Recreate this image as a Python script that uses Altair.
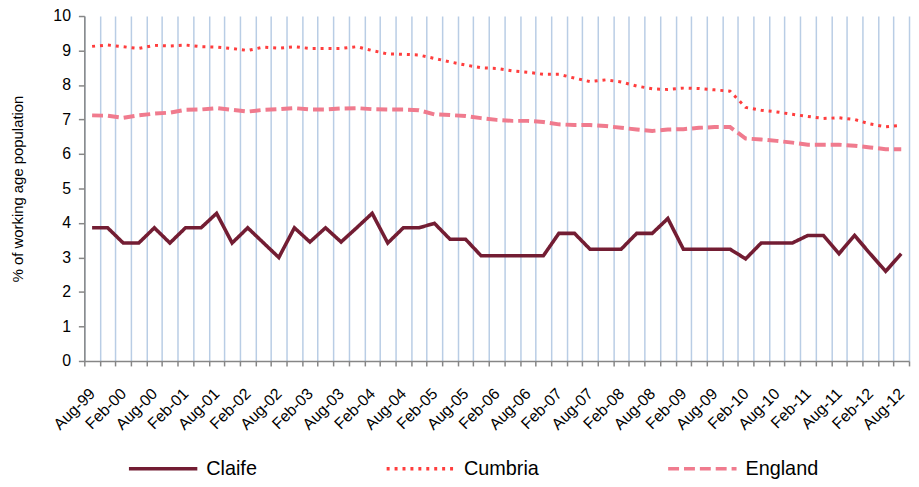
import altair as alt
import pandas as pd

periods = ["Aug-99", "Nov-99", "Feb-00", "May-00", "Aug-00", "Nov-00", "Feb-01", "May-01",
           "Aug-01", "Nov-01", "Feb-02", "May-02", "Aug-02", "Nov-02", "Feb-03", "May-03",
           "Aug-03", "Nov-03", "Feb-04", "May-04", "Aug-04", "Nov-04", "Feb-05", "May-05",
           "Aug-05", "Nov-05", "Feb-06", "May-06", "Aug-06", "Nov-06", "Feb-07", "May-07",
           "Aug-07", "Nov-07", "Feb-08", "May-08", "Aug-08", "Nov-08", "Feb-09", "May-09",
           "Aug-09", "Nov-09", "Feb-10", "May-10", "Aug-10", "Nov-10", "Feb-11", "May-11",
           "Aug-11", "Nov-11", "Feb-12", "May-12", "Aug-12"]

claife = [3.86, 3.86, 3.42, 3.42, 3.86, 3.42, 3.86, 3.86, 4.28, 3.42,
          3.86, 3.43, 3.00, 3.86, 3.45, 3.86, 3.45, 3.86, 4.28, 3.42,
          3.86, 3.86, 3.99, 3.53, 3.53, 3.05, 3.05, 3.05, 3.05, 3.05,
          3.70, 3.70, 3.24, 3.24, 3.24, 3.70, 3.70, 4.13, 3.24, 3.24,
          3.24, 3.24, 2.96, 3.42, 3.42, 3.42, 3.64, 3.64, 3.11, 3.64,
          3.11, 2.60, 3.11]

cumbria = [9.12, 9.16, 9.11, 9.06, 9.15, 9.13, 9.16, 9.11, 9.10, 9.06,
           9.00, 9.10, 9.07, 9.11, 9.06, 9.06, 9.06, 9.11, 9.00, 8.90,
           8.89, 8.87, 8.77, 8.67, 8.58, 8.50, 8.48, 8.41, 8.37, 8.31,
           8.31, 8.20, 8.10, 8.15, 8.09, 7.97, 7.89, 7.87, 7.91, 7.90,
           7.86, 7.82, 7.35, 7.27, 7.22, 7.15, 7.09, 7.03, 7.05, 7.00,
           6.87, 6.79, 6.83]

england = [7.12, 7.11, 7.05, 7.12, 7.17, 7.20, 7.28, 7.29, 7.33, 7.28,
           7.23, 7.28, 7.30, 7.33, 7.29, 7.29, 7.32, 7.33, 7.30, 7.29,
           7.29, 7.27, 7.15, 7.13, 7.10, 7.04, 6.99, 6.96, 6.96, 6.93,
           6.86, 6.84, 6.84, 6.81, 6.76, 6.71, 6.67, 6.71, 6.72, 6.76,
           6.78, 6.78, 6.45, 6.42, 6.38, 6.33, 6.27, 6.27, 6.27, 6.24,
           6.19, 6.14, 6.14]

series_names = ["Claife", "Cumbria", "England"]
series_colors = ["#731d33", "#ff3d3d", "#f07b8e"]
series_dashes = [[1, 0], [3, 5], [11, 5]]
series_widths = [3.6, 3.0, 4.0]

rows = []
for name, vals in zip(series_names, [claife, cumbria, england]):
    for p, v in zip(periods, vals):
        rows.append({"period": p, "value": v, "series": name})
df = pd.DataFrame(rows)

FONT = "Liberation Sans"
legend_spec = dict(
    title=None, orient="none", legendX=43, legendY=420, direction="horizontal",
    symbolType="stroke", symbolSize=4761, symbolStrokeWidth=3.5,
    labelFontSize=20, labelFont=FONT, labelColor="#000000",
    columnPadding=123, labelOffset=7,
)

label_expr = ("isString(datum.label) && (substring(datum.label,0,1)=='A' || "
              "substring(datum.label,0,1)=='F') ? datum.label : ''")

x_enc = alt.X("period:O", sort=periods,
              scale=alt.Scale(type="band", paddingInner=0, paddingOuter=0),
              axis=alt.Axis(title=None, labelAngle=-45, labelAlign="right",
                            labelBaseline="middle", labelPadding=25,
                            labelFontSize=16, labelFont=FONT, labelColor="#000000",
                            labelOverlap=False, labelExpr=label_expr,
                            tickBand="extent", grid=True, gridColor="#b9cde5", gridWidth=1.5,
                            tickColor="#868686", tickSize=5, tickWidth=1.5,
                            domainColor="#868686", domainWidth=1.5))
y_enc = alt.Y("value:Q", scale=alt.Scale(domain=[0, 10], nice=False),
              axis=alt.Axis(values=list(range(11)), grid=False,
                            title="% of working age population",
                            titleFontSize=15, titleFont=FONT, titleFontWeight="normal",
                            titleColor="#000000", titleX=-67, titleY=174,
                            titleBaseline="middle", titleAngle=-90,
                            labelFontSize=16, labelFont=FONT, labelColor="#000000",
                            labelPadding=8, tickSize=6, tickColor="#868686", tickWidth=1.5,
                            domainColor="#868686", domainWidth=1.5))
color_enc = alt.Color("series:N", scale=alt.Scale(domain=series_names, range=series_colors),
                      legend=alt.Legend(**legend_spec))
dash_enc = alt.StrokeDash("series:N", scale=alt.Scale(domain=series_names, range=series_dashes),
                          legend=alt.Legend(**legend_spec))

layers = []
for name, w in zip(series_names, series_widths):
    layers.append(
        alt.Chart(df).transform_filter(alt.datum.series == name)
        .mark_line(strokeWidth=w, strokeJoin="miter")
        .encode(x=x_enc, y=y_enc, color=color_enc, strokeDash=dash_enc)
    )

chart = alt.layer(*layers).properties(
    width=832, height=348,
    autosize=alt.AutoSizeParams(type="none"),
    padding={"left": 77, "top": 6, "right": 2, "bottom": 120},
).configure_view(stroke=None)

chart.save("out.html", embed_options={"renderer": "svg", "actions": False})
